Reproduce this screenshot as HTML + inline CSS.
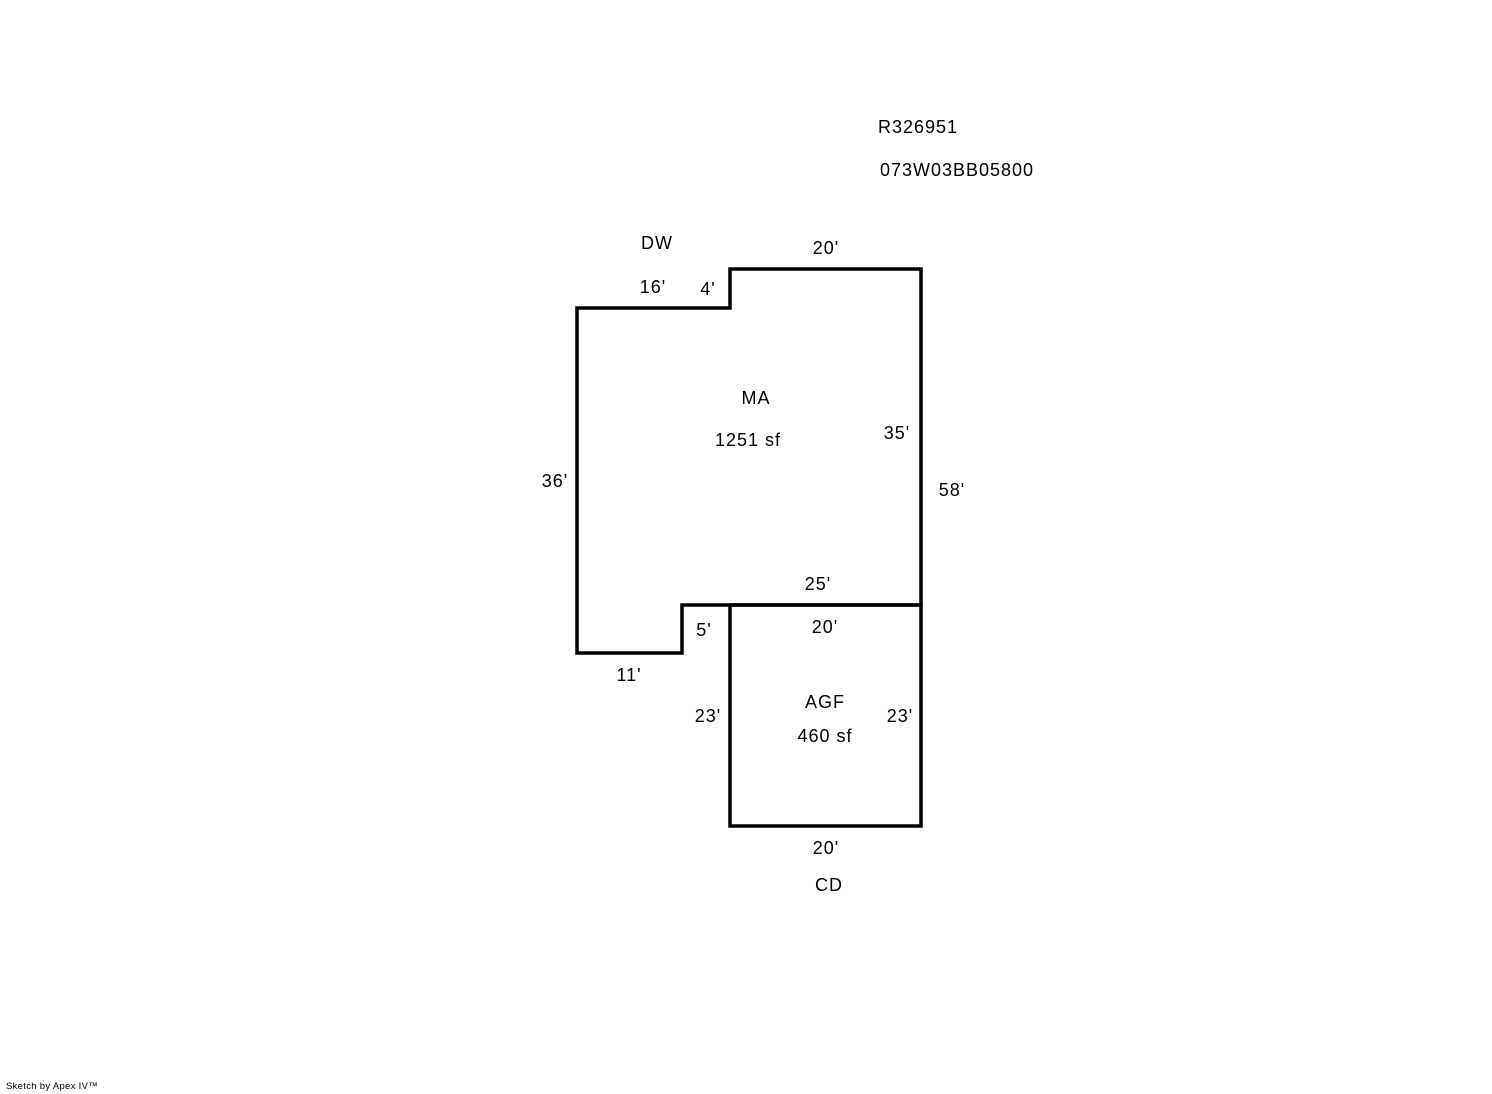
<!DOCTYPE html>
<html><head><style>
body{margin:0;width:1492px;height:1094px;background:#fff;position:relative;overflow:hidden;font-family:"Liberation Sans",sans-serif;}
.t{position:absolute;font-size:18px;letter-spacing:1px;color:#000;line-height:20px;white-space:nowrap;transform:translate(-50%,-50%);}
</style></head><body>
<svg width="1492" height="1094" style="position:absolute;left:0;top:0">
<g fill="none" stroke="#000" stroke-width="3.5" stroke-linejoin="miter">
<polygon points="577,308 730,308 730,269 921,269 921,605 682,605 682,653 577,653"/>
<polygon points="730,605 921,605 921,826 730,826"/>
</g>
</svg>
<div class="t" style="left:918px;top:127px">R326951</div>
<div class="t" style="left:957px;top:170px">073W03BB05800</div>
<div class="t" style="left:657px;top:243px">DW</div>
<div class="t" style="left:826px;top:248px">20'</div>
<div class="t" style="left:653px;top:287px">16'</div>
<div class="t" style="left:708px;top:289px">4'</div>
<div class="t" style="left:756px;top:398px">MA</div>
<div class="t" style="left:748px;top:440px">1251 sf</div>
<div class="t" style="left:897px;top:433px">35'</div>
<div class="t" style="left:555px;top:481px">36'</div>
<div class="t" style="left:952px;top:490px">58'</div>
<div class="t" style="left:818px;top:584px">25'</div>
<div class="t" style="left:825px;top:627px">20'</div>
<div class="t" style="left:704px;top:630px">5'</div>
<div class="t" style="left:629px;top:675px">11'</div>
<div class="t" style="left:825px;top:702px">AGF</div>
<div class="t" style="left:708px;top:716px">23'</div>
<div class="t" style="left:900px;top:716px">23'</div>
<div class="t" style="left:825px;top:736px">460 sf</div>
<div class="t" style="left:826px;top:848px">20'</div>
<div class="t" style="left:829px;top:885px">CD</div>
<div style="position:absolute;left:6px;top:1082px;font-size:9.5px;line-height:10px;letter-spacing:0.3px">Sketch by Apex IV™</div>
</body></html>
